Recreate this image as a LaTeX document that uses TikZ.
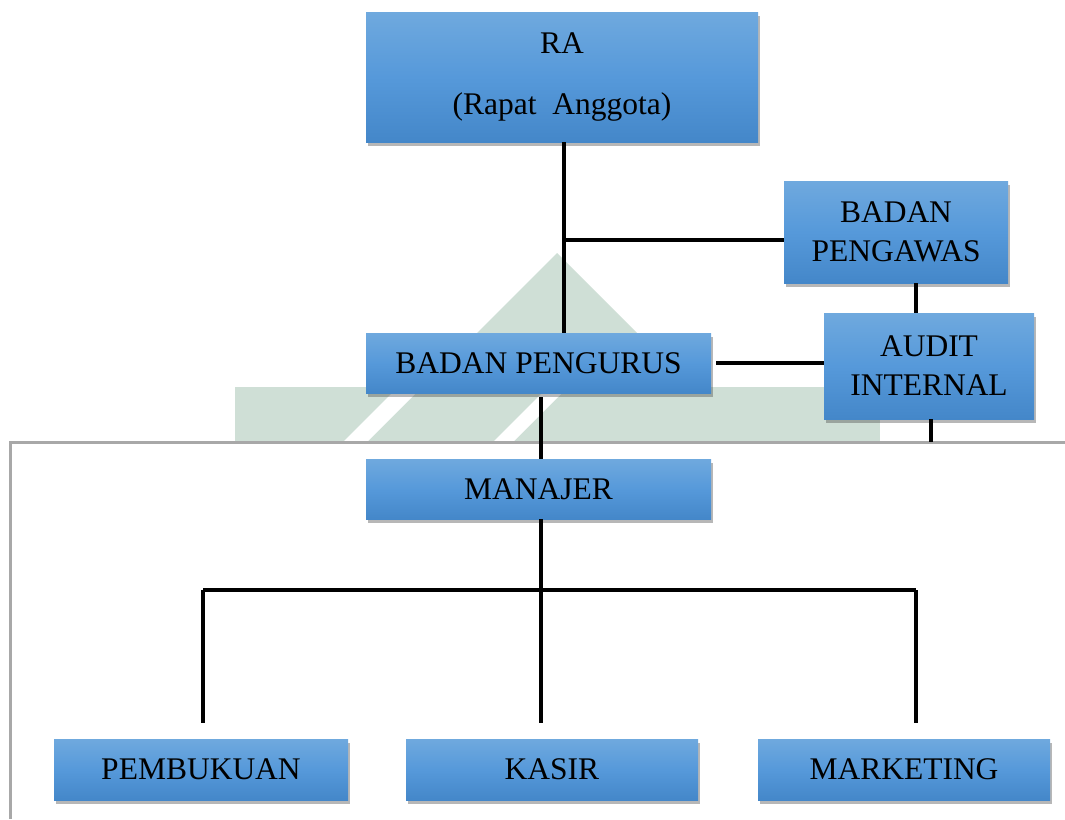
\documentclass[tikz,border=0pt]{standalone}
\usepackage{fontspec}
\setmainfont{Liberation Serif}
\usetikzlibrary{shadows}
\definecolor{wm}{HTML}{CFDFD6}
\definecolor{boxtop}{HTML}{6FA9DE}
\definecolor{boxmid}{HTML}{5699DA}
\definecolor{boxbot}{HTML}{4487C9}
\definecolor{framegray}{HTML}{A8A8A8}
\tikzset{
  orgbox/.style={rectangle, inner sep=0pt, align=center,
    top color=boxtop, bottom color=boxbot, middle color=boxmid,
    font=\fontsize{31.5}{39}\selectfont,
    drop shadow={shadow xshift=2pt, shadow yshift=-4pt, opacity=0.4, fill=black!70}},
  conn/.style={line width=3.8pt, black},
}
\begin{document}
\begin{tikzpicture}[x=1pt,y=-1pt]
\useasboundingbox (0,0) rectangle (1065,819);
% watermark
\fill[wm] (235,387) rectangle (880,442);
\fill[wm] (368,442) -- (557,253) -- (746,442) -- cycle;
\fill[white] (343,442) -- (367,442) -- (422,387) -- (398,387) -- cycle;
\fill[white] (493,442) -- (513,442) -- (583,372) -- (563,372) -- cycle;
% frame
\draw[framegray, line width=3pt] (10,819) -- (10,442) -- (1065,442);
% boxes
\node[orgbox, minimum width=392pt, minimum height=130pt] (ra) at (562,77)
  {RA\\[22pt](Rapat\ \ Anggota)};
\node[orgbox, minimum width=224pt, minimum height=102pt] (bpw) at (896,232)
  {BADAN\\PENGAWAS};
\node[orgbox, minimum width=345pt, minimum height=60pt] (bp) at (538.5,363)
  {BADAN PENGURUS};
\node[orgbox, minimum width=210pt, minimum height=106pt] (ai) at (929,366)
  {AUDIT\\INTERNAL};
\node[orgbox, minimum width=345pt, minimum height=60pt] (mj) at (538.5,489)
  {MANAJER};
\node[orgbox, minimum width=294pt, minimum height=61pt] (pb) at (201,769.5)
  {PEMBUKUAN};
\node[orgbox, minimum width=292pt, minimum height=61pt] (ks) at (552,769.5)
  {KASIR};
\node[orgbox, minimum width=292pt, minimum height=61pt] (mk) at (904,769.5)
  {MARKETING};
% helper coordinates
\coordinate (j1) at (564,240);
\coordinate (x916) at (916,0);
\coordinate (aiend) at (931,442);
\coordinate (bus) at (541,590);
\coordinate (b1) at (203,590);
\coordinate (b3) at (916,590);
% connectors
\draw[conn] (ra.south -| j1) -- (bp.north -| j1);
\draw[conn] (j1) -- (j1 -| bpw.west);
\draw[conn] (bpw.south -| x916) -- (ai.north -| x916);
\draw[conn] ([xshift=5pt]bp.east) -- (ai.west |- bp.east);
\draw[conn] (ai.south -| aiend) -- (aiend);
\draw[conn, shorten <=4pt] (bp.south -| bus) -- (mj.north -| bus);
\draw[conn] (mj.south -| bus) -- (bus);
\draw[conn] (b1) -- (b3);
\draw[conn, shorten >=16pt] (b1) -- (b1 |- pb.north);
\draw[conn, shorten >=16pt] (bus) -- (bus |- ks.north);
\draw[conn, shorten >=16pt] (b3) -- (b3 |- mk.north);
\end{tikzpicture}
\end{document}
